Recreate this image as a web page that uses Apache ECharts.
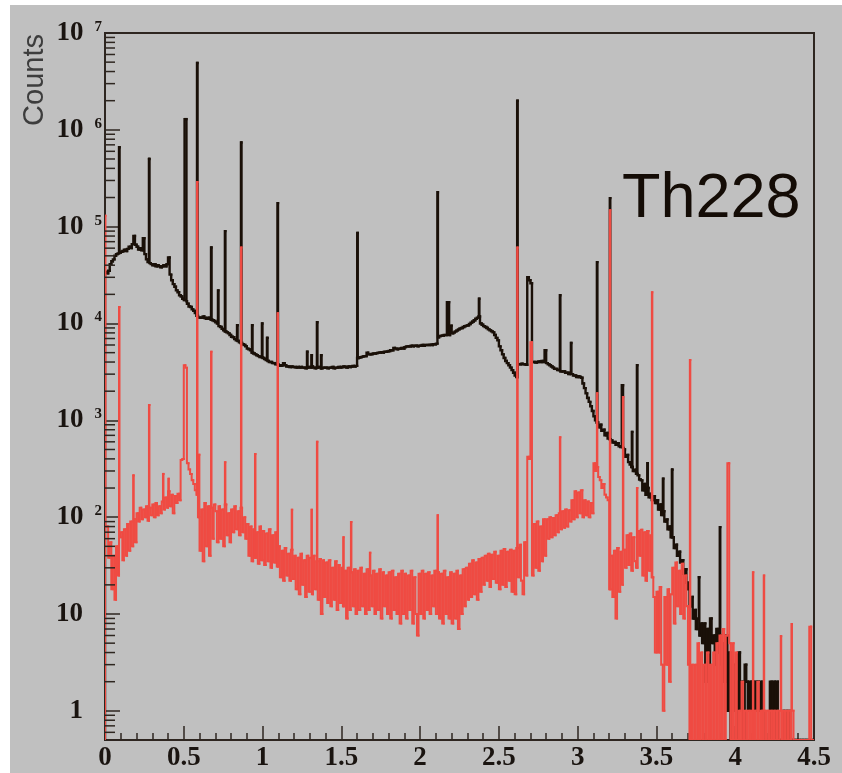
<!DOCTYPE html>
<html><head><meta charset="utf-8">
<script src="https://cdn.jsdelivr.net/npm/echarts@6/dist/echarts.min.js"></script>
<style>
html,body{margin:0;padding:0;background:#ffffff;}
#chart{position:absolute;left:10px;top:5px;width:832px;height:768px;background:#c0c0c0;}
</style></head><body><div id="chart"></div>
<script>
// ---- data (bin width 0.01, bins start at 0) ----
const binWidth = 0.01;
const xMin = 0, xMax = 4.5;
const yMin = 0.5, yMax = 1e7;
const xTickValues = [0, 0.5, 1, 1.5, 2, 2.5, 3, 3.5, 4, 4.5];

const blackCounts = [
34000,33000,35000,41000,44000,46000,50000,52000,53000,54000,
55000,56000,58000,56000,59000,62000,60000,66000,80000,65000,
62000,58000,60000,57000,76000,52000,46000,43000,42000,41000,
40000,41000,39000,40000,39000,38000,39000,40000,39000,41000,
48000,32000,28000,25500,24000,22000,21000,19600,19000,18000,
17500,17000,16000,15000,14800,14000,13500,12800,12000,11500,
11500,11500,11800,11400,11200,11500,11200,11000,10800,10600,
10300,10000,9400,9200,8800,8500,8300,8100,7900,7600,
7300,7200,6900,6700,6600,6400,6300,6100,6000,5800,
5500,5400,5300,5000,4900,4800,4700,4600,4500,4500,
4400,4300,4200,4100,4000,4000,3900,3900,3800,3800,
3700,3650,3700,3900,3700,3600,3600,3550,3600,3550,
3550,3500,3550,3500,3550,3500,3500,3450,3500,3550,
3500,3600,3500,3450,3500,3550,3500,3450,3500,3500,
3500,3450,3500,3500,3550,3450,3500,3500,3550,3500,
3550,3600,3550,3500,3600,3550,3600,3650,3600,3650,
4400,4450,4500,4550,4600,4600,5000,4800,4800,4850,
4900,4900,4950,5000,5000,5050,5000,5100,5100,5150,
5200,5300,5300,5600,5500,5400,5500,5500,5600,5500,
5700,5800,5800,5800,5900,5800,5900,5900,5800,5900,
5900,6000,5900,6000,6000,6000,6050,6000,6100,6100,
6200,7200,7400,7500,7500,7600,7600,7700,7600,9500,
7900,8100,8300,8500,8700,8900,9000,9200,9400,9500,
9600,9900,10200,10500,10800,11200,11500,11800,10000,9700,
9400,9200,9000,8700,8500,8300,8100,7600,7100,6700,
5800,5300,4800,4400,4100,3900,3700,3500,3300,3100,
2900,2800,3800,3800,3850,3800,3800,3750,30000,28000,
26000,4000,4000,3950,4000,4050,4000,4100,4000,5300,
3900,3800,3700,3600,3500,3400,3400,3300,3300,3200,
3200,3200,3100,3100,3000,3100,3000,2900,2900,2800,
2850,2800,2750,2400,2150,1900,1700,1550,1400,1250,
1100,1000,950,850,900,780,800,700,740,650,
640,620,590,600,560,580,540,530,520,500,
420,440,370,350,330,300,310,280,270,245,
240,190,220,170,200,160,175,150,165,140,
150,120,135,105,115,90,95,75,80,62,
62,48,52,40,44,34,36,26,29,21,
18,12,15,9,11,7,9,6,8,5,
8,2,7,3,9,5,6,3,7,4,
6,3,5,2,6,1,4,0,3,1,
2,0,4,1,2,0,3,2,1,2,
1,2,1,2,2,1,2,1,0,0,
0,0,2,0,2,0,2,0,0,0,
1,0,1,0,1,0,0,0,0,0,
0,0,0,0,0,0,0,0,0,0
];

const redCounts = [
80,80,38,55,18,40,14,50,25,62,
70,36,75,40,85,45,90,50,95,55,
110,90,125,95,120,100,130,92,125,105,
135,100,140,105,130,110,145,120,160,125,
185,130,170,110,165,140,175,150,390,400,
3700,3500,360,310,280,240,220,190,170,100,
45,120,35,140,50,130,40,125,60,135,
115,55,130,60,120,50,135,65,110,55,
120,70,130,75,115,65,125,70,100,60,
85,40,80,35,75,38,70,33,80,36,
72,32,68,35,75,30,65,34,70,31,
50,24,45,22,48,25,42,22,46,23,
40,18,38,16,42,20,36,15,40,17,
38,16,40,18,35,14,37,10,36,15,
34,13,36,12,30,14,35,11,32,13,
30,12,28,9,30,11,27,12,29,10,
28,11,30,12,26,10,29,11,25,12,
28,10,26,11,29,9,27,12,25,10,
27,9,28,11,24,10,26,8,28,10,
26,9,25,11,28,8,24,10,6,26,
10,28,9,26,11,27,10,25,12,28,
10,27,9,26,8,28,10,24,9,27,
8,26,9,28,7,25,10,29,12,30,
14,33,15,36,16,34,14,37,17,38,
20,40,22,42,19,41,23,44,21,40,
18,45,20,47,19,44,22,46,17,45,
16,48,24,52,22,16,55,25,420,400,
6400,25,85,30,90,28,80,35,95,40,
95,60,100,62,98,65,105,70,110,75,
115,78,120,80,118,90,150,95,185,100,
180,110,190,100,150,105,145,100,140,110,
360,300,330,260,240,200,220,170,160,150,
18,40,15,45,9,48,17,44,20,46,
30,65,32,68,28,62,35,30,72,40,
74,25,70,22,72,28,65,24,15,4,
17,4,19,3,1,15,3,18,2,16,
30,8,34,12,28,10,33,9,25,12,
3,0,3,0,3,0,5,0,4,0,
3,0,4,0,3,0,4,0,5,0,
6,0,7,0,6,0,5,0,5,0,
4,0,1,0,2,0,1,0,1,0,
1,0,1,0,2,0,1,0,1,0,
1,0,1,0,1,0,1,0,1,0,
1,0,1,0,1,0,1,0,0,0,
0,0,0,0,0,0,0,0,0,0
];

// narrow peaks: [energy, counts, width]
const blackPeaks = [
[0.089,660000],[0.279,500000],[0.505,1290000,0.012],[0.584,4900000],
[0.673,61000],[0.717,22000],[0.761,90000],[0.838,9600],[0.863,740000],
[0.933,9600],[0.996,10000],[1.028,7100],[1.095,175000],[1.282,5100],
[1.310,4700],[1.345,10300],[1.371,4700],[1.601,86000],[2.110,227000],
[2.170,16600,0.014],[2.373,18000],[2.616,2000000],[2.887,19600],[2.957,6300],
[3.122,43000],[3.204,197000],[3.280,2300,0.008],[3.344,760],[3.376,3700],
[3.442,360],[3.541,250],[3.598,310],[3.769,24],[3.902,79]
];
const redPeaks = [
[0.000,130000],[0.089,14800],[0.179,270],[0.279,1440],[0.368,280],[0.402,250],
[0.584,290000],[0.596,440],[0.673,5100],[0.761,370],[0.863,61000],[0.952,450],
[1.095,12800],[1.185,119],[1.310,119],[1.345,600],[1.512,62],[1.561,89],
[1.681,43],[2.110,105],[2.616,61000],[2.887,670],[3.122,1900],[3.204,148000],
[3.287,1740],[3.376,200],[3.471,21000],[3.712,4200],[3.950,360,0.012],
[4.112,27],[4.181,25],[4.289,5.9],[4.357,7.9],[4.470,7.4,0.012]
];

// ---- histogram segments: [xStart, xEnd, level, previousLevel] ----
function buildSegments(counts, peaks) {
  const n = counts.length;
  const defW = 0.003;
  const edges = new Set();
  for (let i = 0; i < n; i++) edges.add(+(i * binWidth).toFixed(4));
  peaks.forEach(p => {
    const w = p[2] || defW;
    edges.add(+p[0].toFixed(4));
    edges.add(+(p[0] + w).toFixed(4));
  });
  const xs = Array.from(edges).sort((a, b) => a - b);
  function valueAt(x) {
    for (const p of peaks) {
      const w = p[2] || defW;
      if (x >= p[0] - 1e-9 && x < p[0] + w - 1e-9) return p[1];
    }
    const i = Math.min(n - 1, Math.floor(x / binWidth + 1e-6));
    return counts[i];
  }
  const segs = [];
  let prev = yMin;
  xs.forEach((x, k) => {
    let v = valueAt(x);
    if (!(v > 0)) v = yMin;
    const x1 = k + 1 < xs.length ? xs[k + 1] : xMax;
    segs.push([x, x1, v, prev]);
    prev = v;
  });
  return segs;
}

function histSeries(name, segs, color, width, z) {
  return {
    type: 'custom', name, data: segs, z, silent: true, clip: true,
    encode: {x: [0, 1], y: [2, 3]},
    renderItem: (params, api) => {
      const a = api.coord([api.value(0), api.value(3)]);
      const b = api.coord([api.value(0), api.value(2)]);
      const c = api.coord([api.value(1), api.value(2)]);
      return {type: 'polyline', shape: {points: [a, b, c]},
              style: {stroke: color, lineWidth: width, fill: null, lineJoin: 'miter', lineCap: 'square'}};
    }
  };
}

const yMinorTicks = [];
for (let e = -1; e < 7; e++) for (let k = 2; k <= 9; k++) {
  const v = k * Math.pow(10, e);
  if (v > yMin && v < yMax) yMinorTicks.push([0, v]);
}

const frameColor = '#2e2620';
const textColor = '#1a1410';
const chart = echarts.init(document.getElementById('chart'), null, {renderer: 'canvas'});
chart.setOption({
  animation: false,
  backgroundColor: 'transparent',
  grid: {left: 95, right: 28, top: 28, bottom: 33, show: true, borderColor: frameColor, borderWidth: 2,
         backgroundColor: 'transparent', outerBoundsMode: 'none', containLabel: false},
  xAxis: {
    type: 'value', min: xMin, max: xMax, interval: 0.5,
    axisLine: {show: true, onZero: false, lineStyle: {color: frameColor, width: 2}},
    axisTick: {show: true, inside: true, length: 14, lineStyle: {color: frameColor, width: 1.5}},
    minorTick: {show: true, splitNumber: 5, length: 7, lineStyle: {color: frameColor, width: 1.5}},
    splitLine: {show: false}, minorSplitLine: {show: false},
    axisLabel: {margin: 5, color: textColor, fontFamily: 'Liberation Serif', fontWeight: 'bold', fontSize: 27,
      formatter: v => xTickValues.indexOf(v) >= 0 ? String(v) : ''}
  },
  yAxis: {
    type: 'log', logBase: 10, min: yMin, max: yMax, splitNumber: 8,
    axisLine: {show: true, onZero: false, lineStyle: {color: frameColor, width: 2}},
    axisTick: {show: true, inside: true, length: 15, lineStyle: {color: frameColor, width: 1.5}},
    splitLine: {show: false},
    axisLabel: {
      margin: 3, color: textColor,
      formatter: v => {
        if (v < 0.9) return '';
        const e = Math.round(Math.log10(v));
        if (e === 0) return '{b|1}{sp|\u00a0}';
        if (e === 1) return '{b|10}{sp|\u00a0}';
        return '{b|10}{e|' + e + '}';
      },
      rich: {
        b: {fontFamily: 'Liberation Serif', fontWeight: 'bold', fontSize: 27, color: textColor},
        e: {fontFamily: 'Liberation Serif', fontWeight: 'bold', fontSize: 15, color: textColor, verticalAlign: 'top', padding: [0, 0, 0, 11]},
        sp: {width: 19, fontSize: 14}
      }
    }
  },
  graphic: [
    {type: 'text', x: 25, y: 75, rotation: Math.PI / 2,
     style: {text: 'Counts', fontFamily: 'Liberation Sans', fontSize: 29, fill: '#3d3d3d', align: 'center', verticalAlign: 'middle'}},
    {type: 'text', x: 612, y: 195,
     style: {text: 'Th228', fontFamily: 'Liberation Sans', fontSize: 63, fill: '#140c06', align: 'left', verticalAlign: 'middle'}}
  ],
  series: [
    histSeries('black', buildSegments(blackCounts, blackPeaks), '#1a1008', 2.4, 2),
    histSeries('red', buildSegments(redCounts, redPeaks), '#ef4b43', 2.0, 3),
    {type: 'custom', name: 'yMinorTicks', data: yMinorTicks, silent: true, z: 4, clip: false,
     renderItem: (params, api) => {
       const p = api.coord([0, api.value(1)]);
       return {type: 'line', shape: {x1: p[0], y1: p[1], x2: p[0] + 10, y2: p[1]},
               style: {stroke: frameColor, lineWidth: 1.5}};
     }}
  ]
});
</script></body></html>
